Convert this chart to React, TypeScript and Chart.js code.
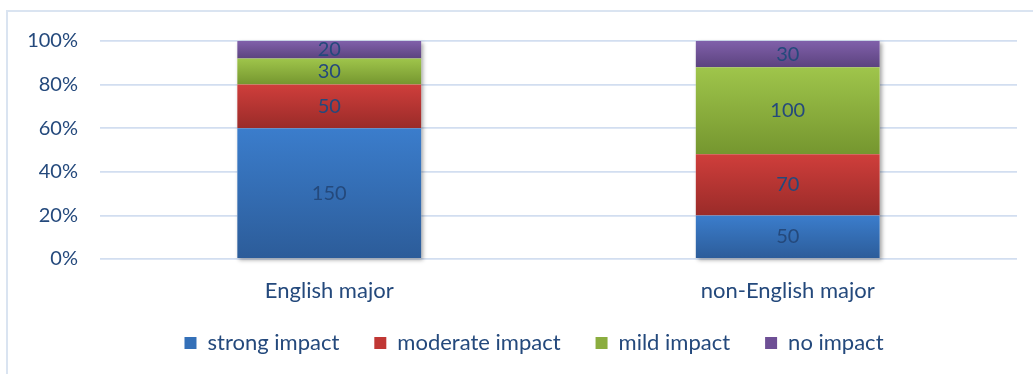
import React, { useEffect, useRef } from 'react';
import { Chart, registerables } from 'chart.js';

Chart.register(...registerables);

const categories = ['English major', 'non-English major'];
const seriesNames = ['strong impact', 'moderate impact', 'mild impact', 'no impact'];
const strongImpact = [150, 50];
const moderateImpact = [50, 70];
const mildImpact = [30, 100];
const noImpact = [20, 30];
const yTickValues = [0, 20, 40, 60, 80, 100];

const seriesValues = [strongImpact, moderateImpact, mildImpact, noImpact];
const totals = categories.map((_, i) => seriesValues.reduce((s, arr) => s + arr[i], 0));
const percents = seriesValues.map((arr) => arr.map((v, i) => (v / totals[i]) * 100));

const topColors = ['#3b7dcc', '#cf3e3b', '#9fc54b', '#8060aa'];
const bottomColors = ['#2c5c99', '#9a2b29', '#75962f', '#5c437f'];
const legendColors = ['#3470b8', '#c03734', '#8bad3f', '#6e4f95'];
const textColor = '#24497c';
const fontFamily = 'Lato, "Open Sans", sans-serif';

export default function App() {
  const canvasRef = useRef<HTMLCanvasElement | null>(null);

  useEffect(() => {
    const canvas = canvasRef.current;
    if (!canvas) return;

    const shadowPlugin = {
      id: 'stackShadow',
      beforeDatasetsDraw(chart: any) {
        const ctx = chart.ctx;
        const first = chart.getDatasetMeta(0);
        const last = chart.getDatasetMeta(seriesValues.length - 1);
        ctx.save();
        ctx.shadowColor = 'rgba(0,0,0,0.35)';
        ctx.shadowBlur = 4;
        ctx.shadowOffsetX = 2;
        ctx.shadowOffsetY = 2;
        ctx.fillStyle = '#ffffff';
        first.data.forEach((el: any, i: number) => {
          const top = last.data[i].y;
          const bottom = el.base;
          const w = el.width;
          ctx.fillRect(el.x - w / 2, top, w, bottom - top);
        });
        ctx.restore();
      },
    };

    const labelPlugin = {
      id: 'segmentLabels',
      afterDatasetsDraw(chart: any) {
        const ctx = chart.ctx;
        ctx.save();
        ctx.font = `20px ${fontFamily}`;
        ctx.fillStyle = textColor;
        ctx.textAlign = 'center';
        ctx.textBaseline = 'middle';
        chart.data.datasets.forEach((_: any, di: number) => {
          const meta = chart.getDatasetMeta(di);
          meta.data.forEach((el: any, i: number) => {
            const y = (el.y + el.base) / 2;
            ctx.fillText(String(seriesValues[di][i]), el.x, y);
          });
        });
        ctx.restore();
      },
    };

    const legendShiftPlugin = {
      id: 'legendShift',
      afterLayout(chart: any) {
        const lg = chart.legend;
        if (lg) {
          lg.left += 3;
          lg.right += 3;
          lg.top -= 7;
          lg.bottom -= 7;
        }
      },
    };

    const datasets = seriesNames.map((name, di) => ({
      label: name,
      data: percents[di],
      yAxisID: 'y',
      backgroundColor: (c: any) => {
        const chart = c.chart;
        const y = chart.scales && chart.scales.y;
        if (c.type !== 'data' || !y) return legendColors[di];
        const i = c.dataIndex;
        let start = 0;
        for (let k = 0; k < di; k++) start += percents[k][i];
        const end = start + percents[di][i];
        const y0 = y.getPixelForValue(end);
        const y1 = y.getPixelForValue(start);
        if (!isFinite(y0) || !isFinite(y1) || y0 === y1) return legendColors[di];
        const g = chart.ctx.createLinearGradient(0, y0, 0, y1);
        g.addColorStop(0, topColors[di]);
        g.addColorStop(1, bottomColors[di]);
        return g;
      },
      borderWidth: 0,
      barPercentage: 1,
      categoryPercentage: 0.401,
    }));

    const chart = new Chart(canvas, {
      type: 'bar',
      data: { labels: categories, datasets },
      options: {
        animation: false,
        responsive: false,
        devicePixelRatio: 1,
        layout: { padding: { left: 20, right: 8, top: 41, bottom: 3 } },
        scales: {
          x: {
            stacked: true,
            afterFit: (s: any) => {
              s.height = 45;
            },
            grid: { display: false, drawTicks: false },
            border: { display: false },
            ticks: {
              color: textColor,
              padding: 19,
              font: { family: fontFamily, size: 22 },
            },
          },
          y: {
            stacked: true,
            min: 0,
            max: 100,
            afterFit: (s: any) => {
              s.width = 80;
            },
            afterBuildTicks: (s: any) => {
              s.ticks = yTickValues.map((v) => ({ value: v }));
            },
            grid: { color: '#d2def0', lineWidth: 1.8, drawTicks: false },
            border: { display: false },
            ticks: {
              color: textColor,
              padding: 22,
              font: { family: fontFamily, size: 20 },
              callback: (v: any) => `${v}%`,
            },
          },
          spacer: {
            position: 'right',
            min: 0,
            max: 1,
            afterFit: (s: any) => {
              s.width = 25;
            },
            grid: { display: false, drawTicks: false },
            border: { display: false },
            ticks: { display: false },
          },
        },
        plugins: {
          tooltip: { enabled: false },
          legend: {
            position: 'bottom',
            labels: {
              boxWidth: 12,
              boxHeight: 12,
              padding: 35,
              color: textColor,
              font: { family: fontFamily, size: 22 },
              generateLabels: () =>
                seriesNames.map((n, i) => ({
                  text: n,
                  fillStyle: legendColors[i],
                  strokeStyle: legendColors[i],
                  lineWidth: 0,
                  hidden: false,
                  datasetIndex: i,
                  fontColor: textColor,
                })),
            },
          },
        },
      },
      plugins: [shadowPlugin, labelPlugin, legendShiftPlugin],
    });

    return () => chart.destroy();
  }, []);

  return (
    <div
      style={{
        position: 'fixed',
        left: 0,
        top: 0,
        width: 1033,
        height: 374,
        overflow: 'hidden',
        background: '#ffffff',
      }}
    >
      <div
        style={{
          position: 'absolute',
          left: 6,
          top: 10,
          width: 1100,
          height: 500,
          border: '2px solid #dae4f1',
          boxSizing: 'border-box',
        }}
      />
      <canvas
        ref={canvasRef}
        width={1050}
        height={374}
        style={{ position: 'absolute', left: 0, top: 0, width: 1050, height: 374 }}
      />
    </div>
  );
}
